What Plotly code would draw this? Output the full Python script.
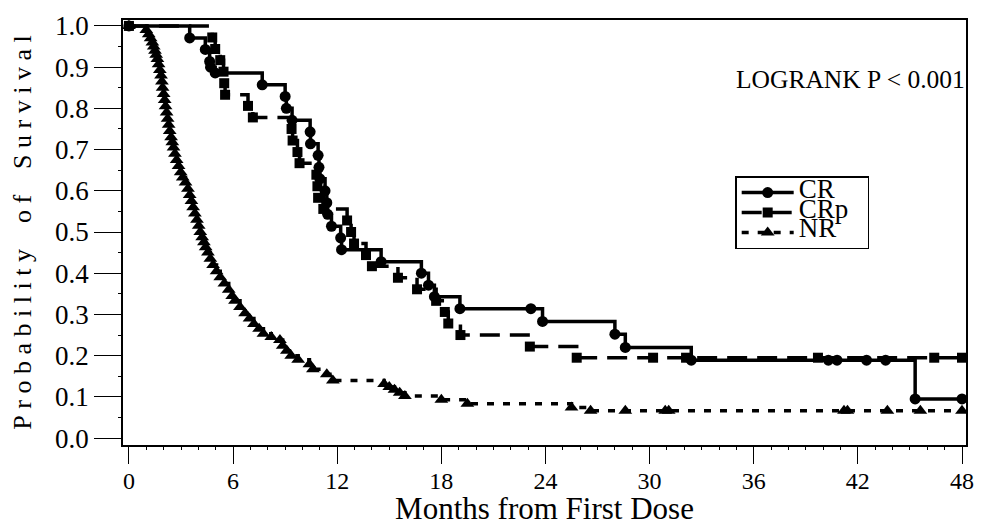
import plotly.graph_objects as go

# ---- data (months, survival probability) ----
cr_time = [0, 3.5, 4.4, 4.65, 4.7, 4.97, 7.68, 9.0, 9.07, 9.4, 10.44, 10.46, 10.9, 10.95,
           11.0, 11.3, 11.4, 11.45, 11.67, 12.2, 12.25, 14.53, 16.85, 17.26, 17.6, 19.07,
           23.16, 23.83, 28.0, 28.6, 32.4, 40.3, 40.8, 42.5, 43.6, 45.3, 48.0]
cr_surv = [1.0, 0.971, 0.943, 0.914, 0.9, 0.886, 0.857, 0.829, 0.8, 0.771, 0.743, 0.714, 0.686, 0.657,
           0.629, 0.6, 0.571, 0.543, 0.514, 0.486, 0.457, 0.428, 0.4, 0.371, 0.343, 0.314,
           0.314, 0.283, 0.252, 0.22, 0.189, 0.189, 0.189, 0.189, 0.189, 0.095, 0.095]

crp_time = [0, 4.8, 4.97, 5.26, 5.45, 5.49, 5.54, 6.86, 7.14, 9.37, 9.43, 9.71, 9.83, 10.8,
            10.86, 10.9, 11.2, 12.57, 12.8, 12.97, 13.66, 14.0, 15.5, 16.6, 17.7, 18.2, 18.4,
            19.1, 23.1, 25.8, 30.2, 32.1, 39.7, 46.4, 48.0]
crp_surv = [1.0, 0.972, 0.944, 0.917, 0.889, 0.861, 0.833, 0.806, 0.778, 0.75, 0.722, 0.694, 0.667, 0.639,
            0.611, 0.583, 0.556, 0.528, 0.5, 0.472, 0.444, 0.417, 0.389, 0.361, 0.333, 0.306, 0.278,
            0.25, 0.222, 0.195, 0.195, 0.195, 0.195, 0.195, 0.195]

nr_time = [0, 1.0, 1.14, 1.25, 1.35, 1.43, 1.5, 1.57, 1.64, 1.71, 1.78, 1.85, 1.9, 1.94, 2.0,
           2.06, 2.11, 2.17, 2.23, 2.29, 2.35, 2.43, 2.5, 2.57, 2.65, 2.75, 2.86, 2.98, 3.1,
           3.26, 3.4, 3.5, 3.6, 3.7, 3.8, 3.92, 4.02, 4.11, 4.22, 4.32, 4.42, 4.55, 4.69,
           4.85, 5.05, 5.26, 5.5, 5.75, 5.95, 6.11, 6.4, 6.69, 6.95, 7.2, 7.5, 7.75, 8.2,
           8.7, 8.86, 9.1, 9.35, 9.75, 10.4, 10.6, 11.4, 11.75, 14.7, 15.0, 15.3, 15.6, 15.9,
           18.0, 19.5, 25.5, 26.6, 28.6, 30.9, 31.1, 41.2, 41.4, 43.7, 45.6, 48.0]
nr_surv = [1.0, 0.99, 0.98, 0.97, 0.96, 0.95, 0.94, 0.93, 0.92, 0.907, 0.893, 0.88, 0.865, 0.85, 0.835,
           0.82, 0.805, 0.79, 0.775, 0.76, 0.745, 0.73, 0.718, 0.705, 0.69, 0.675, 0.66, 0.645, 0.632,
           0.62, 0.605, 0.59, 0.575, 0.56, 0.545, 0.53, 0.515, 0.5, 0.487, 0.475, 0.463, 0.45, 0.435,
           0.42, 0.405, 0.39, 0.375, 0.36, 0.345, 0.333, 0.318, 0.303, 0.29, 0.277, 0.265, 0.253, 0.245,
           0.238, 0.224, 0.212, 0.2, 0.19, 0.179, 0.167, 0.155, 0.14, 0.131, 0.124, 0.117, 0.11, 0.102,
           0.093, 0.083, 0.074, 0.066, 0.066, 0.066, 0.066, 0.066, 0.066, 0.066, 0.066, 0.066]

series_names = ["CR", "CRp", "NR"]
x_ticks = [0, 6, 12, 18, 24, 30, 36, 42, 48]
y_ticks = [0.0, 0.1, 0.2, 0.3, 0.4, 0.5, 0.6, 0.7, 0.8, 0.9, 1.0]

FONT = "Liberation Serif"
NB = "\u00a0"


def legend_label(s):
    return '<span style="font-size:27px">' + s + NB + NB + '</span>'


fig = go.Figure()
fig.add_trace(go.Scatter(
    x=cr_time, y=cr_surv, name=legend_label(series_names[0]), mode="lines+markers",
    line=dict(shape="hv", color="black", width=3.5),
    marker=dict(symbol="circle", size=11, color="black")))
fig.add_trace(go.Scatter(
    x=crp_time, y=crp_surv, name=legend_label(series_names[1]), mode="lines+markers",
    line=dict(shape="hv", color="black", width=3.5, dash="20px,10px"),
    marker=dict(symbol="square", size=10, color="black")))
fig.add_trace(go.Scatter(
    x=nr_time, y=nr_surv, name=legend_label(series_names[2]), mode="lines+markers",
    line=dict(shape="hv", color="black", width=3.5, dash="7px,9px"),
    marker=dict(symbol="triangle-up", size=12, color="black")))

fig.add_annotation(x=41.6, y=0.87, xref="x", yref="y", text="LOGRANK P &lt; 0.001",
                   showarrow=False, font=dict(family=FONT, size=25.5, color="black"))

fig.update_layout(
    width=985, height=526,
    margin=dict(l=123, r=11, t=18, b=78),
    plot_bgcolor="white", paper_bgcolor="white",
    font=dict(family=FONT, color="black"),
    legend=dict(x=(741 - 123) / 851, y=(448 - 176) / 430, xanchor="left", yanchor="top",
                bgcolor="white", bordercolor="black", borderwidth=1.5,
                font=dict(size=13, family=FONT, color="black"), itemwidth=52,
                tracegroupgap=0),
)

fig.update_xaxes(
    range=[-0.342, 48.23], showgrid=False, zeroline=False,
    showline=True, mirror=True, linecolor="black", linewidth=1.5,
    tickmode="array", tickvals=x_ticks, ticktext=[str(v) for v in x_ticks],
    ticks="outside", ticklen=17, tickwidth=1.2, tickcolor="black",
    minor=dict(dtick=1, ticks="outside", ticklen=3, tickwidth=1, tickcolor="black"),
    tickfont=dict(family=FONT, size=24, color="black"),
    ticklabelstandoff=-4,
    title=dict(text="Months from First Dose", font=dict(family=FONT, size=31, color="black"),
               standoff=0),
)
yt = NB.join(list("Probability")) + NB * 4 + NB.join(list("of")) + NB * 4 + NB.join(list("Survival"))
fig.update_yaxes(
    range=[-0.0168, 1.0144], showgrid=False, zeroline=False,
    showline=True, mirror=True, linecolor="black", linewidth=1.5,
    tickmode="array", tickvals=y_ticks, ticktext=["%.1f" % v for v in y_ticks],
    ticks="outside", ticklen=27, tickwidth=1.2, tickcolor="black",
    minor=dict(dtick=0.05, ticks="outside", ticklen=3, tickwidth=1, tickcolor="black"),
    tickfont=dict(family=FONT, size=27, color="black"),
    title=dict(text=yt, font=dict(family=FONT, size=26, color="black"), standoff=16),
)

fig.write_html("out.html", config={"displayModeBar": False},
               post_script="document.body.style.margin='0';document.body.style.overflow='hidden';")
